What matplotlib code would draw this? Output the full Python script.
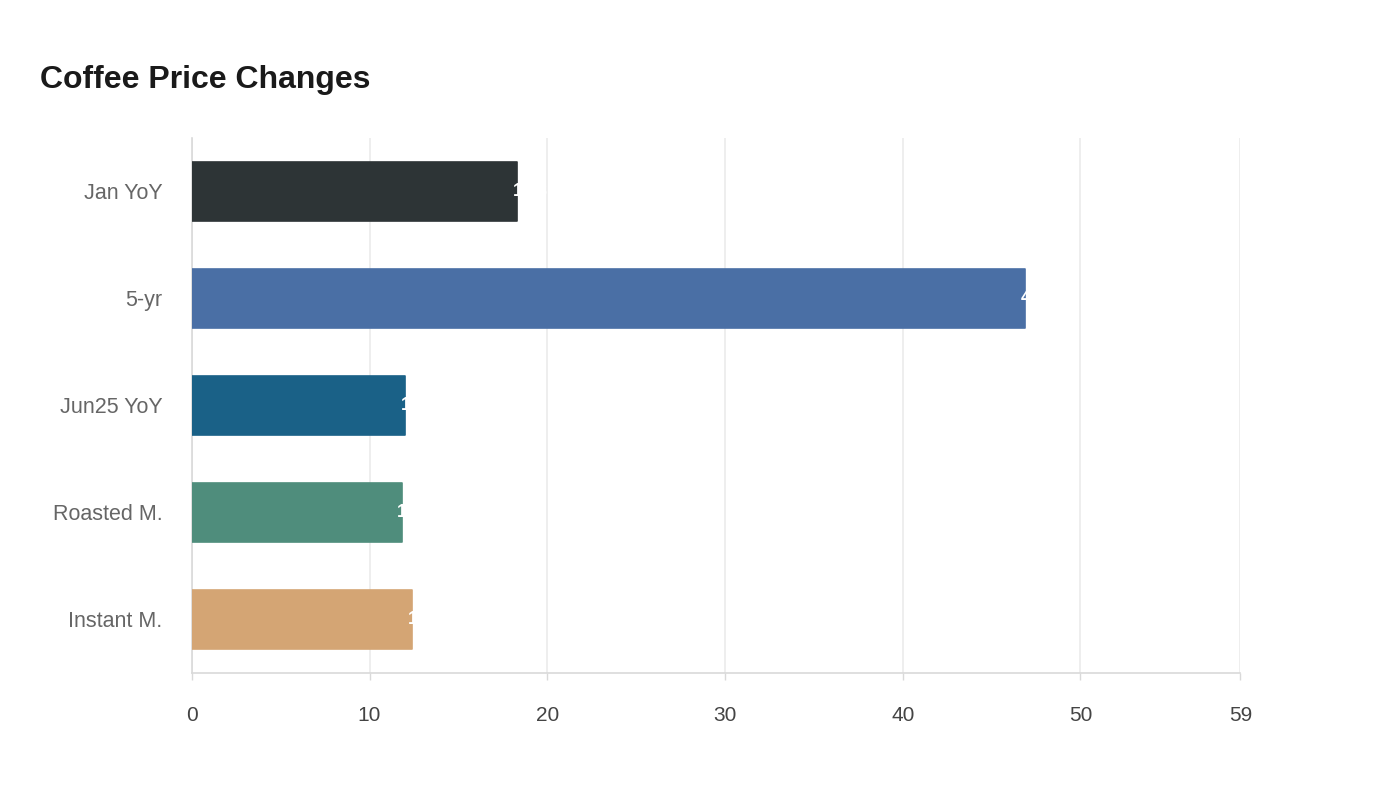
import matplotlib.pyplot as plt
from matplotlib.ticker import FixedLocator

plt.rcParams['font.family'] = ['Liberation Sans', 'DejaVu Sans']

# Данные
categories = ['Jan YoY', '5-yr', 'Jun25 YoY', 'Roasted M.', 'Instant M.']
values = [18.3, 46.9, 12.0, 11.8, 12.4]
colors = ['#2d3436', '#4a6fa5', '#1a6187', '#4f8d7c', '#d4a574']
x_ticks = [0, 10, 20, 30, 40, 50, 59]

fig = plt.figure(figsize=(14, 8), dpi=100)
ax = fig.add_axes([0.137, 0.159, 0.749, 0.6685])

y_pos = list(range(len(categories)))
ax.barh(y_pos, values, height=0.55, color=colors, edgecolor=colors,
        linewidth=1.2, joinstyle='round', zorder=3)

# Подписи значений (белые, почти не видны за баром)
for y, v in zip(y_pos, values):
    ax.annotate(f'{v:.1f}', xy=(v, y), xytext=(-3, 0), textcoords='offset points',
                ha='left', va='center', color='white', fontsize=13, fontweight='bold', zorder=4)

ax.set_xlim(0, 59)
ax.set_ylim(4.5, -0.5)
ax.set_yticks(y_pos)
ax.set_yticklabels(categories)
ax.xaxis.set_major_locator(FixedLocator(x_ticks))

ax.grid(axis='x', color='#ebebeb', linewidth=1.2, zorder=0)
ax.grid(axis='y', visible=False)
for side in ['top', 'right']:
    ax.spines[side].set_visible(False)
for side in ['left', 'bottom']:
    ax.spines[side].set_color('#d9d9d9')
    ax.spines[side].set_linewidth(1.2)

ax.tick_params(axis='y', length=0, pad=21, labelsize=15.5, labelcolor='#666666')
ax.tick_params(axis='x', length=5, width=1, color='#d9d9d9', pad=19, labelsize=15, labelcolor='#444444')

fig.text(40 / 1400, 1 - 80 / 800, 'Coffee Price Changes', fontsize=23, fontweight='bold',
         color='#1a1a1a', ha='left', va='center')

fig.savefig('out.png', dpi=100, facecolor='white')
